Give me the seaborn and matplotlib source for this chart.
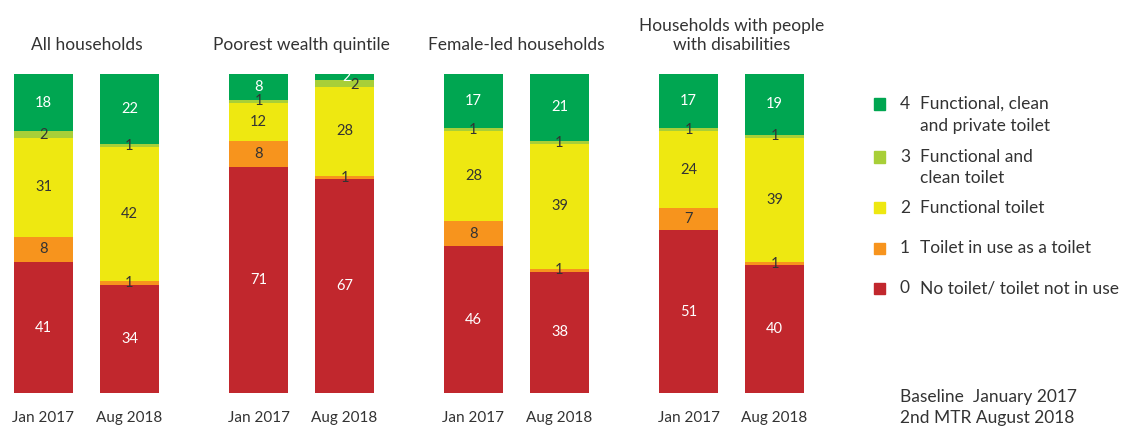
import matplotlib
matplotlib.use("Agg")
import matplotlib.pyplot as plt
import seaborn as sns
import numpy as np
from matplotlib.patches import Rectangle

sns.set_theme(style="white")
plt.rcParams['font.family'] = ['Lato', 'DejaVu Sans']

groups = ["All households", "Poorest wealth quintile", "Female-led households",
          "Households with people\nwith disabilities"]
periods = ["Jan 2017", "Aug 2018"]
levels = ["0", "1", "2", "3", "4"]
level_labels = ["No toilet/ toilet not in use", "Toilet in use as a toilet",
                "Functional toilet", "Functional and\nclean toilet",
                "Functional, clean\nand private toilet"]
colors = ["#C1272D", "#F7941D", "#EEE811", "#A8CF38", "#00A651"]
label_colors = ["white", "#333333", "#333333", "#333333", "white"]

# values per level (0..4), order: group x period
lvl0 = [41, 34, 71, 67, 46, 38, 51, 40]
lvl1 = [8, 1, 8, 1, 8, 1, 7, 1]
lvl2 = [31, 42, 12, 28, 28, 39, 24, 39]
lvl3 = [2, 1, 1, 2, 1, 1, 1, 1]
lvl4 = [18, 22, 8, 2, 17, 21, 17, 19]
series = [lvl0, lvl1, lvl2, lvl3, lvl4]

fig = plt.figure(figsize=(11.23, 4.26), dpi=100)
W, H = 1123, 426
y_bottom_px, y_top_px = 393, 74
ax = fig.add_axes([0, (H - y_bottom_px) / H, 1, (y_bottom_px - y_top_px) / H])
ax.set_xlim(0, W)
ax.set_ylim(0, 100)
ax.axis("off")

bar_w = 59
xs = []
for g in range(4):
    for b in range(2):
        xs.append(14 + g * 215 + b * 86)
xs = np.array(xs, dtype=float)

bottom = np.zeros(8)
for li, vals in enumerate(series):
    vals = np.array(vals, dtype=float)
    ax.bar(xs, vals, width=bar_w, bottom=bottom, align="edge",
           color=colors[li], edgecolor="none", linewidth=0)
    for i, v in enumerate(vals):
        cx = xs[i] + bar_w / 2
        cy = bottom[i] + v / 2
        if i == 3 and li == 3:
            cx += 10
            cy -= 0.5
        if i == 3 and li == 4:
            cx += 2
        ax.text(cx, cy, f"{int(v)}", ha="center", va="center",
                fontsize=10.5, color=label_colors[li])
    bottom += vals

# group titles
for g, name in enumerate(groups):
    cx = 14 + g * 215 + (86 + bar_w) / 2
    fig.text(cx / W, 1 - 53 / H, name, ha="center", va="bottom",
             fontsize=12.5, color="#333333", linespacing=1.2)

# period labels
for i, x in enumerate(xs):
    fig.text((x + bar_w / 2) / W, 1 - 418 / H, periods[i % 2], ha="center",
             va="center", fontsize=11, color="#333333")

# legend
legend_rows = [(4, [104, 126]), (3, [157, 178]), (2, [208]), (1, [248]), (0, [288])]
for lvl, ys in legend_rows:
    y0 = ys[0]
    fig.patches.append(Rectangle(((874) / W, 1 - (y0 + 5.5) / H), 11 / W, 11 / H,
                                 transform=fig.transFigure, color=colors[lvl]))
    fig.text(900 / W, 1 - y0 / H, levels[lvl], ha="left", va="center",
             fontsize=12.5, color="#333333")
    lines = level_labels[lvl].split("\n")
    for j, line in enumerate(lines):
        fig.text(920 / W, 1 - ys[j] / H, line, ha="left", va="center",
                 fontsize=12.5, color="#333333")

fig.text(900 / W, 1 - 397 / H, "Baseline  January 2017", ha="left", va="center",
         fontsize=12.5, color="#333333")
fig.text(900 / W, 1 - 418 / H, "2nd MTR August 2018", ha="left", va="center",
         fontsize=12.5, color="#333333")

fig.savefig("out.png", dpi=100)
